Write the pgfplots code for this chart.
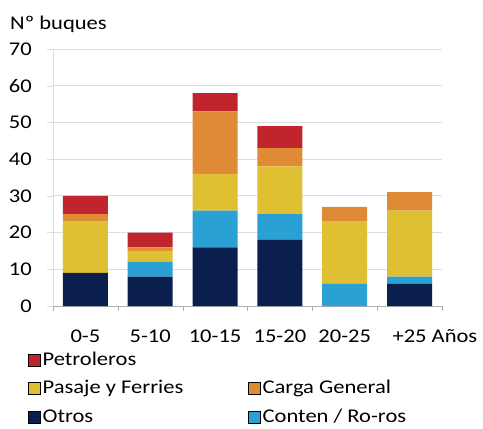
\documentclass[border=0pt]{standalone}
\usepackage{pgfplots}
\pgfplotsset{compat=1.18}
\usepackage{fontspec}
\setmainfont{Carlito}[FakeStretch=1.16]
\definecolor{cRed}{RGB}{192,37,45}
\definecolor{cOrange}{RGB}{223,138,52}
\definecolor{cYellow}{RGB}{222,192,50}
\definecolor{cBlue}{RGB}{43,160,212}
\definecolor{cNavy}{RGB}{11,31,79}
\definecolor{gridc}{RGB}{222,222,222}
\definecolor{axc}{RGB}{175,175,175}
\newcommand{\fs}{\fontsize{19.5}{22}\selectfont}

\begin{document}
\begin{tikzpicture}
\begin{axis}[
  at={(0,0)}, anchor=south west,
  scale only axis, width=389bp, height=257bp,
  xmin=-0.5, xmax=5.5, ymin=0, ymax=70,
  clip=false,
  ybar stacked, bar width=45bp,
  axis lines*=left,
  x axis line style={draw=axc},
  y axis line style={draw=gridc},
  ymajorgrids, grid style={gridc, line width=0.8pt},
  ytick={0,10,...,70},
  xtick={0,...,5},
  xticklabels={0-5,5-10,10-15,15-20,20-25,{+25\rlap{ Años}}},
  minor xtick={-0.5,0.5,...,5.5},
  tick align=outside,
  major tick length=6bp, minor tick length=5bp,
  major x tick style={draw=none},
  minor x tick style={draw=axc},
  ytick style={draw=gridc},
  /pgf/number format/assume math mode=true,
  ticklabel style={font=\fs},
  yticklabel style={inner sep=0pt, xshift=-15bp},
  xticklabel style={yshift=-14bp},
  legend style={draw=none, fill=none, font=\fs, legend columns=2,
    at={(axis description cs:-0.0643,-0.167)}, anchor=north west,
    inner sep=0pt, row sep=6.5bp,
    nodes={text height=14bp, text depth=4bp, inner sep=2bp},
    /tikz/every even column/.style={column sep=63bp}},
  legend cell align=left,
  legend image code/.code={\fill[#1] (0bp,-6bp) rectangle (12bp,6bp);},
]
% Otros
\addplot[fill=cNavy, draw=none, forget plot] coordinates {(0,9) (1,8) (2,16) (3,18) (4,0) (5,6)};
% Conten / Ro-ros
\addplot[fill=cBlue, draw=none, forget plot] coordinates {(0,0) (1,4) (2,10) (3,7) (4,6) (5,2)};
% Pasaje y Ferries
\addplot[fill=cYellow, draw=none, forget plot] coordinates {(0,14) (1,3) (2,10) (3,13) (4,17) (5,18)};
% Carga General
\addplot[fill=cOrange, draw=none, forget plot] coordinates {(0,2) (1,1) (2,17) (3,5) (4,4) (5,5)};
% Petroleros
\addplot[fill=cRed, draw=none, forget plot] coordinates {(0,5) (1,4) (2,5) (3,6) (4,0) (5,0)};

\addlegendimage{fill=cRed}\addlegendentry{Petroleros}
\addlegendimage{empty legend}\addlegendentry{}
\addlegendimage{fill=cYellow}\addlegendentry{Pasaje y Ferries}
\addlegendimage{fill=cOrange}\addlegendentry{Carga General}
\addlegendimage{fill=cNavy}\addlegendentry{Otros}
\addlegendimage{fill=cBlue}\addlegendentry{Conten / Ro-ros}

\node[anchor=west, font=\fs, inner sep=0pt] at (axis description cs:-0.1105,1.097) {Nº buques};
\end{axis}
\path[use as bounding box] (-53bp,-122bp) rectangle (430bp,306bp);
\end{tikzpicture}
\end{document}
